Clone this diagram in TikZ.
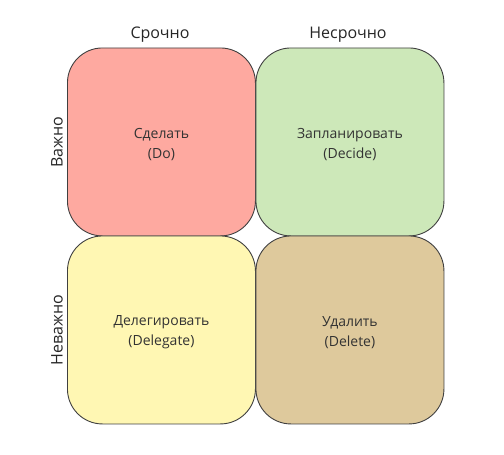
\documentclass[tikz,border=0pt]{standalone}
\usepackage{fontspec}
\setmainfont{Open Sans}
\begin{document}
\begin{tikzpicture}[x=1pt,y=-1pt,
  quad/.style={draw=black!75,line width=0.9pt,rounded corners=35pt,minimum width=188pt,minimum height=188pt,anchor=north west,inner sep=0pt,text=black!80,align=center,font=\fontsize{14}{20}\selectfont},
  lbl/.style={text=black!80,align=center,font=\fontsize{14}{20}\selectfont,inner sep=0pt},
  axis/.style={text=black!85,font=\fontsize{16}{19}\selectfont,inner sep=0pt}]
\useasboundingbox (0,0) rectangle (504,455);
\definecolor{cRed}{HTML}{FEA9A0}
\definecolor{cGreen}{HTML}{CDE8B9}
\definecolor{cYellow}{HTML}{FFF7B3}
\definecolor{cTan}{HTML}{DEC99C}
\node[quad,fill=cRed] (do) at (67,47.5) {};
\node[quad,fill=cGreen] (decide) at (255.5,47.5) {};
\node[quad,fill=cYellow] (delegate) at (67,235.5) {};
\node[quad,fill=cTan] (delete) at (255.5,235.5) {};
\node[lbl] (tdo) at ([yshift=-2.5pt]do.center) {Сделать\\(Do)};
\node[lbl] (tdecide) at ([yshift=-2.5pt]decide.center) {Запланировать\\(Decide)};
\node[lbl] (tdelegate) at ([yshift=-2.5pt]delegate.center) {Делегировать\\(Delegate)};
\node[lbl] (tdelete) at ([yshift=-2.5pt]delete.center) {Удалить\\(Delete)};
\node[axis] (urgent) at (160,35) {Срочно};
\node[axis] (noturgent) at (348,35) {Несрочно};
\node[axis,rotate=90] (important) at (57,142) {Важно};
\node[axis,rotate=90] (notimportant) at (57,330) {Неважно};
\end{tikzpicture}
\end{document}
